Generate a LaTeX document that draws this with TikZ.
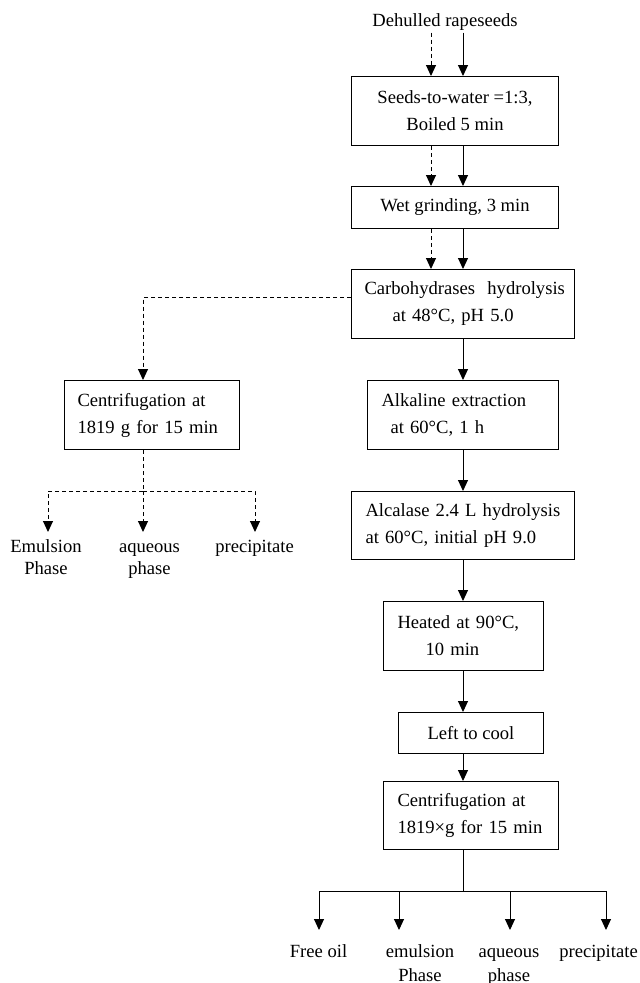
\documentclass[tikz,border=0pt]{standalone}
\usepackage{fontspec}
\usepackage{tikz}
\usetikzlibrary{arrows.meta, positioning, calc}
\setmainfont{Liberation Serif}
\newcommand{\flowfont}{\fontsize{18.6}{27}\selectfont}
\newcommand{\fl}{\vphantom{l}}

\begin{document}
\begin{tikzpicture}[
    x=1pt, y=-1pt,
    box/.style={draw, line width=1pt, anchor=north west, inner ysep=0pt, font=\flowfont},
    lbox/.style={box, align=left, inner xsep=14pt},
    cbox/.style={box, align=center},
    arr/.style={-{Triangle[length=11pt,width=10pt]}, line width=1pt},
    dasharr/.style={arr, dash pattern=on 4pt off 3pt},
    dashline/.style={line width=1pt, dash pattern=on 4pt off 3pt},
    lbl/.style={font=\fontsize{18.6}{22}\selectfont, align=center, anchor=north, inner sep=0pt, outer ysep=8pt},
    botlbl/.style={lbl, font=\fontsize{18.6}{24}\selectfont, outer ysep=15pt}
]
\useasboundingbox (0,0) rectangle (640,983);

% Guide lines for the two streams
\coordinate (dashx) at (431,0);
\coordinate (solid) at (463,0);
\coordinate (leftx) at (143,0);
\coordinate (lsplit) at (143,491);
\coordinate (bsplit) at (463,891);

% Raw material
\node[font=\flowfont, inner sep=2pt] (raw) at (445,22) {Dehulled rapeseeds};

% Common steps
\node[cbox, minimum width=207pt, minimum height=69pt] (seeds) at (351,76) {Seeds-to-water =1:3,\\Boiled 5 min};
\node[cbox, minimum width=207pt, minimum height=42pt] (grind) at (351,186) {Wet grinding, 3 min};
\node[lbox, inner xsep=13pt, text width=197pt, minimum height=69pt] (carbo) at (351,269) {\mbox{Carbohydrases\ \ hydrolysis}\\\hspace*{28pt}at 48°C, pH 5.0};

% Left branch
\node[lbox, inner xsep=13pt, text width=149pt, minimum height=69pt] (centri1) at (64,380) {Centrifugation at\\1819 g for 15 min};

% Right branch
\node[lbox, text width=163pt, minimum height=69pt] (alkaline) at (367,380) {Alkaline extraction\\\hspace*{9pt}at 60°C, 1 h};
\node[lbox, text width=195pt, minimum height=68pt] (alcalase) at (351,491) {Alcalase 2.4 L hydrolysis\\at 60°C, initial pH 9.0};
\node[lbox, text width=132pt, minimum height=69pt] (heated) at (383,601) {Heated at 90°C,\\\hspace*{28pt}10 min};
\node[cbox, minimum width=145pt, minimum height=41pt] (cool) at (398,712) {Left to cool};
\node[lbox, text width=147pt, minimum height=68pt] (centri2) at (383,781) {Centrifugation at\\1819×g for 15 min};

% Fractions
\node[lbl] (emul1) at (46,532) {\fl Emulsion\\Phase};
\node[lbl] (aq1) at (149.5,532) {\fl aqueous\\phase};
\node[lbl] (prec1) at (254.5,532) {\fl precipitate};
\node[botlbl] (oil) at (318.5,930) {\fl Free oil};
\node[botlbl] (emul2) at (420,930) {\fl emulsion\\Phase};
\node[botlbl] (aq2) at (509,930) {\fl aqueous\\phase};
\node[botlbl] (prec2) at (598.5,930) {\fl precipitate};

% Arrows
\foreach \a/\b in {raw/seeds, seeds/grind, grind/carbo} {
    \draw[dasharr] (\a.south -| dashx) -- (\b.north -| dashx);
    \draw[arr] (\a.south -| solid) -- (\b.north -| solid);
}
\foreach \a/\b in {carbo/alkaline, alkaline/alcalase, alcalase/heated, heated/cool, cool/centri2}
    \draw[arr] (\a.south -| solid) -- (\b.north -| solid);

\draw[dasharr] ([yshift=6.5pt]carbo.west) -| (centri1.north -| leftx);
\draw[dashline] (centri1.south -| leftx) -- (lsplit);
\foreach \t/\x in {emul1/48, aq1/143, prec1/255}
    \draw[dasharr] (lsplit) -| (\t.north -| \x,0);

\draw[line width=1pt] (centri2.south -| solid) -- (bsplit);
\foreach \t/\x in {oil/319, emul2/399, aq2/510, prec2/606}
    \draw[arr] (bsplit) -| (\t.north -| \x,0);

\end{tikzpicture}
\end{document}
